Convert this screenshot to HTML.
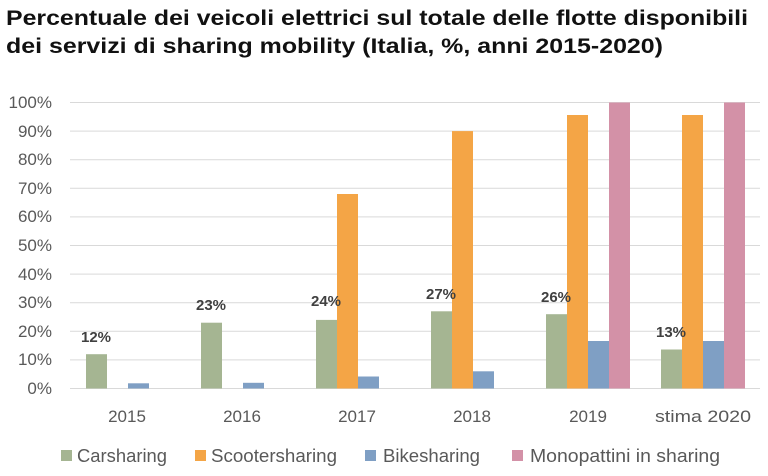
<!DOCTYPE html><html><head><style>body{margin:0;background:#fff}</style></head><body>
<svg width="768" height="471" xmlns="http://www.w3.org/2000/svg" font-family="Liberation Sans, sans-serif">
<text x="6" y="25" font-size="21" font-weight="bold" fill="#111" textLength="742" lengthAdjust="spacingAndGlyphs">Percentuale dei veicoli elettrici sul totale delle flotte disponibili</text>
<text x="6" y="53" font-size="21" font-weight="bold" fill="#111" textLength="657" lengthAdjust="spacingAndGlyphs">dei servizi di sharing mobility (Italia, %, anni 2015-2020)</text>
<g stroke="#d9d9d9" stroke-width="1">
<line x1="70" x2="760" y1="102.5" y2="102.5"/><line x1="70" x2="760" y1="131.1" y2="131.1"/><line x1="70" x2="760" y1="159.7" y2="159.7"/><line x1="70" x2="760" y1="188.3" y2="188.3"/><line x1="70" x2="760" y1="216.9" y2="216.9"/><line x1="70" x2="760" y1="245.5" y2="245.5"/><line x1="70" x2="760" y1="274.1" y2="274.1"/><line x1="70" x2="760" y1="302.7" y2="302.7"/><line x1="70" x2="760" y1="331.3" y2="331.3"/><line x1="70" x2="760" y1="359.9" y2="359.9"/><line x1="70" x2="760" y1="388.5" y2="388.5"/>
</g>
<g font-size="17" fill="#595959" text-anchor="end">
<text x="52" y="108">100%</text><text x="52" y="137">90%</text><text x="52" y="165">80%</text><text x="52" y="194">70%</text><text x="52" y="222">60%</text><text x="52" y="251">50%</text><text x="52" y="280">40%</text><text x="52" y="308">30%</text><text x="52" y="337">20%</text><text x="52" y="365">10%</text><text x="52" y="394">0%</text>
</g>
<g>
<rect x="86" y="354.2" width="21" height="34.3" fill="#a5b592"/>
<rect x="128" y="383.3" width="21" height="5.2" fill="#7f9fc4"/>
<rect x="201" y="322.7" width="21" height="65.8" fill="#a5b592"/>
<rect x="243" y="382.8" width="21" height="5.7" fill="#7f9fc4"/>
<rect x="316" y="319.9" width="21" height="68.6" fill="#a5b592"/>
<rect x="337" y="194" width="21" height="194.5" fill="#f4a546"/>
<rect x="358" y="376.5" width="21" height="12" fill="#7f9fc4"/>
<rect x="431" y="311.3" width="21" height="77.2" fill="#a5b592"/>
<rect x="452" y="131.1" width="21" height="257.4" fill="#f4a546"/>
<rect x="473" y="371.3" width="21" height="17.2" fill="#7f9fc4"/>
<rect x="546" y="314.2" width="21" height="74.3" fill="#a5b592"/>
<rect x="567" y="115" width="21" height="273.5" fill="#f4a546"/>
<rect x="588" y="341" width="21" height="47.5" fill="#7f9fc4"/>
<rect x="609" y="102.5" width="21" height="286" fill="#d391a7"/>
<rect x="661" y="349.5" width="21" height="39" fill="#a5b592"/>
<rect x="682" y="115" width="21" height="273.5" fill="#f4a546"/>
<rect x="703" y="341" width="21" height="47.5" fill="#7f9fc4"/>
<rect x="724" y="102.5" width="21" height="286" fill="#d391a7"/>
</g>
<g font-size="15" font-weight="bold" fill="#404040" text-anchor="middle">
<text x="96" y="342">12%</text><text x="211" y="310">23%</text><text x="326" y="306">24%</text><text x="441" y="299">27%</text><text x="556" y="302">26%</text><text x="671" y="337">13%</text>
</g>
<g font-size="17" fill="#595959" text-anchor="middle">
<text x="127" y="422">2015</text><text x="242" y="422">2016</text><text x="357" y="422">2017</text><text x="472" y="422">2018</text><text x="588" y="422">2019</text><text x="703" y="422" textLength="96" lengthAdjust="spacingAndGlyphs">stima 2020</text>
</g>
<g font-size="18" fill="#595959">
<rect x="61" y="450" width="11" height="11" fill="#a5b592"/><text x="77" y="462" textLength="90" lengthAdjust="spacingAndGlyphs">Carsharing</text>
<rect x="195" y="450" width="11" height="11" fill="#f4a546"/><text x="211" y="462" textLength="126" lengthAdjust="spacingAndGlyphs">Scootersharing</text>
<rect x="365" y="450" width="11" height="11" fill="#7f9fc4"/><text x="383" y="462" textLength="97" lengthAdjust="spacingAndGlyphs">Bikesharing</text>
<rect x="512" y="450" width="11" height="11" fill="#d391a7"/><text x="530" y="462" textLength="190" lengthAdjust="spacingAndGlyphs">Monopattini in sharing</text>
</g>
</svg>
</body></html>
